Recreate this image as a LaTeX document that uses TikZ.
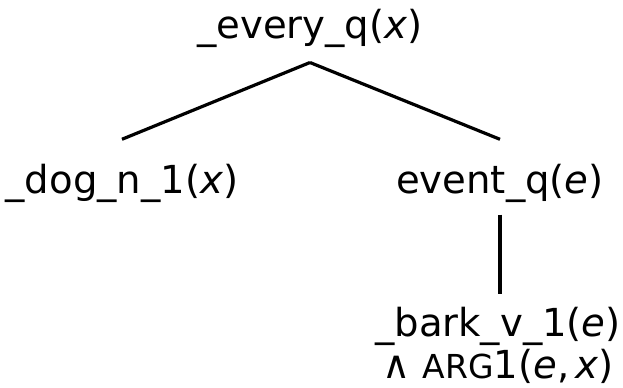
\documentclass[tikz,border=0pt]{standalone}
\usepackage{fontspec}
\setmainfont{DejaVu Sans}
\usetikzlibrary{calc}
\tikzstyle{every node}=[font=\fontsize{19.3}{20}\selectfont]
\tikzstyle{pred} = [inner sep=0pt, anchor=base]
\tikzstyle{line} = [draw, line width=1.6pt]
\newcommand{\argsc}[1]{{\fontsize{16.5}{20}\selectfont #1}}

\begin{document}
\begin{tikzpicture}[x=0.5pt, y=-0.5pt]
    \useasboundingbox (0,0) rectangle (623,387);
    % Place nodes
    \node [pred] (every) at (310,38) {\_every\_q(\textit{x})};
    \node [pred] (dog) at (122,193) {\_dog\_n\_1(\textit{x})};
    \node [pred] (event) at (500,193) {event\_q(\textit{e})};
    \node [inner sep=0pt, align=center] (bark) at (498,345) {\_bark\_v\_1(\textit{e})\\[1pt] ∧ \argsc{ARG}1(\textit{e},\,\textit{x})};
    % Draw edges
    \path [line] ([yshift=-7.5pt]every.south) -- ([yshift=12pt]dog.north);
    \path [line] ([yshift=-7.5pt]every.south) -- ([yshift=12pt]event.north);
    \path [line] ([yshift=-6pt]event.south) -- ([yshift=6pt]event.south |- bark.north);
\end{tikzpicture}
\end{document}
